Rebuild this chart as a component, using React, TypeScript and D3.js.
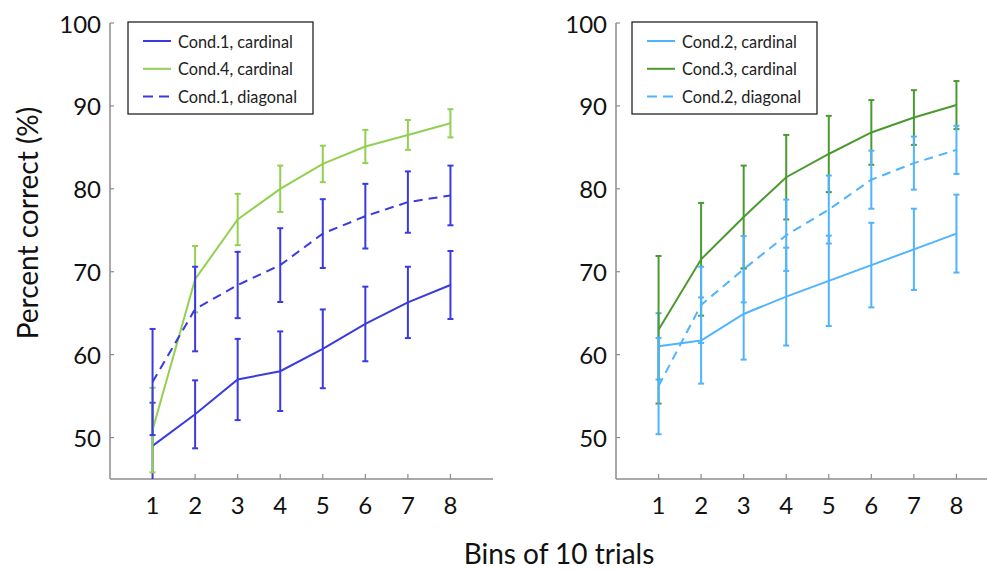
import React from "react";
import * as d3 from "d3";

// Bin index (each bin = 10 trials)
const bins = [1, 2, 3, 4, 5, 6, 7, 8];
const yTicks = [50, 60, 70, 80, 90, 100];

// Left panel: means and error half-widths (percent correct)
const cond1Card = [49.0, 52.8, 57.0, 58.0, 60.7, 63.7, 66.3, 68.4];
const cond1CardErr = [5.2, 4.1, 4.9, 4.8, 4.75, 4.5, 4.3, 4.1];
const cond4Card = [50.9, 69.1, 76.3, 80.0, 83.0, 85.1, 86.5, 87.9];
const cond4CardErr = [5.1, 4.0, 3.1, 2.8, 2.2, 2.0, 1.8, 1.7];
const cond1Diag = [56.7, 65.5, 68.4, 70.8, 74.6, 76.7, 78.4, 79.2];
const cond1DiagErr = [6.4, 5.1, 4.0, 4.45, 4.15, 3.9, 3.7, 3.6];

// Right panel
const cond2Card = [61.0, 61.7, 64.9, 67.0, 68.9, 70.8, 72.7, 74.6];
const cond2CardErr = [4.0, 5.2, 5.5, 5.9, 5.45, 5.1, 4.9, 4.7];
const cond3Card = [63.0, 71.5, 76.6, 81.4, 84.2, 86.8, 88.6, 90.1];
const cond3CardErr = [8.9, 6.8, 6.2, 5.1, 4.6, 3.9, 3.3, 2.9];
const cond2Diag = [56.2, 66.0, 70.3, 74.4, 77.5, 81.1, 83.1, 84.7];
const cond2DiagErr = [5.8, 4.6, 4.0, 4.3, 4.1, 3.5, 3.2, 2.9];

const BLUE = "#3a3ae2";
const LIGHT_GREEN = "#92d050";
const DARK_GREEN = "#4a9a30";
const LIGHT_BLUE = "#4fb4ff";
const AXIS = "#8c8c8c";
const FONT = "Lato, 'Open Sans', sans-serif";

type Series = {
  name: string;
  values: number[];
  err: number[];
  color: string;
  dashed: boolean;
};

const leftSeries: Series[] = [
  { name: "Cond.1, cardinal", values: cond1Card, err: cond1CardErr, color: BLUE, dashed: false },
  { name: "Cond.4, cardinal", values: cond4Card, err: cond4CardErr, color: LIGHT_GREEN, dashed: false },
  { name: "Cond.1, diagonal", values: cond1Diag, err: cond1DiagErr, color: BLUE, dashed: true },
];

const rightSeries: Series[] = [
  { name: "Cond.2, cardinal", values: cond2Card, err: cond2CardErr, color: LIGHT_BLUE, dashed: false },
  { name: "Cond.3, cardinal", values: cond3Card, err: cond3CardErr, color: DARK_GREEN, dashed: false },
  { name: "Cond.2, diagonal", values: cond2Diag, err: cond2DiagErr, color: LIGHT_BLUE, dashed: true },
];

const W = 987;
const H = 571;
const yTop = 23;
const yBottom = 479;

const y = d3.scaleLinear().domain([45, 100]).range([yBottom, yTop]);

function Panel({
  id,
  x0,
  series,
  legendX,
}: {
  id: string;
  x0: number;
  series: Series[];
  legendX: number;
}) {
  const x = d3.scaleLinear().domain([0, 9]).range([x0, x0 + 383]);
  const line = d3
    .line<number>()
    .x((_, i) => x(bins[i]))
    .y((v) => y(v));
  const cap = 3;
  return (
    <g>
      <defs>
        <clipPath id={`clip-${id}`}>
          <rect x={x0} y={0} width={W} height={yBottom} />
        </clipPath>
      </defs>
      {/* axes */}
      <line x1={x0} x2={x0} y1={yTop} y2={yBottom} stroke={AXIS} strokeWidth={1.5} />
      <line x1={x0} x2={x(9)} y1={yBottom} y2={yBottom} stroke={AXIS} strokeWidth={1.5} />
      {yTicks.map((t) => (
        <g key={t}>
          <line x1={x0} x2={x0 + 4} y1={y(t)} y2={y(t)} stroke={AXIS} strokeWidth={1.2} />
          <text
            x={x0 - 9}
            y={y(t)}
            textAnchor="end"
            dominantBaseline="central"
            fontFamily={FONT}
            fontSize={24}
            fill="#111"
          >
            {t}
          </text>
        </g>
      ))}
      {bins.map((b) => (
        <g key={b}>
          <line x1={x(b)} x2={x(b)} y1={yBottom} y2={yBottom - 5} stroke={AXIS} strokeWidth={1.2} />
          <text
            x={x(b)}
            y={504}
            textAnchor="middle"
            dominantBaseline="central"
            fontFamily={FONT}
            fontSize={24}
            fill="#111"
          >
            {b}
          </text>
        </g>
      ))}
      {/* series with error bars */}
      <g clipPath={`url(#clip-${id})`}>
        {series.map((s) => (
          <g key={s.name}>
            {s.values.map((v, i) => {
              const cx = x(bins[i]);
              const hi = y(v + s.err[i]);
              const lo = y(v - s.err[i]);
              return (
                <g key={i} stroke={s.color} strokeWidth={2}>
                  <line x1={cx} x2={cx} y1={hi} y2={lo} />
                  <line x1={cx - cap} x2={cx + cap} y1={hi} y2={hi} />
                  <line x1={cx - cap} x2={cx + cap} y1={lo} y2={lo} />
                </g>
              );
            })}
            <path
              d={line(s.values) || ""}
              fill="none"
              stroke={s.color}
              strokeWidth={2}
              strokeDasharray={s.dashed ? "9,6" : undefined}
            />
          </g>
        ))}
      </g>
      {/* legend */}
      <rect
        x={legendX}
        y={22}
        width={185}
        height={92}
        fill="#fff"
        stroke="#111"
        strokeWidth={1.2}
      />
      {series.map((s, i) => {
        const ly = 41 + i * 27.8;
        return (
          <g key={s.name}>
            <line
              x1={legendX + 15}
              x2={legendX + 43}
              y1={ly}
              y2={ly}
              stroke={s.color}
              strokeWidth={2}
              strokeDasharray={s.dashed ? "10,6" : undefined}
            />
            <text
              x={legendX + 50}
              y={ly}
              dominantBaseline="central"
              fontFamily={FONT}
              fontSize={16.3}
              fill="#222"
            >
              {s.name}
            </text>
          </g>
        );
      })}
    </g>
  );
}

export default function App() {
  return (
    <svg
      width={W}
      height={H}
      style={{ position: "absolute", left: 0, top: 0, background: "#fff" }}
    >
      <rect width={W} height={H} fill="#fff" />
      <Panel id="left" x0={110} series={leftSeries} legendX={128} />
      <Panel id="right" x0={616} series={rightSeries} legendX={632} />
      <text
        transform={`translate(27,223) rotate(-90)`}
        textAnchor="middle"
        dominantBaseline="central"
        fontFamily={FONT}
        fontSize={28}
        fill="#111"
      >
        Percent correct (%)
      </text>
      <text
        x={559}
        y={564}
        textAnchor="middle"
        fontFamily={FONT}
        fontSize={28}
        fill="#111"
      >
        Bins of 10 trials
      </text>
    </svg>
  );
}
